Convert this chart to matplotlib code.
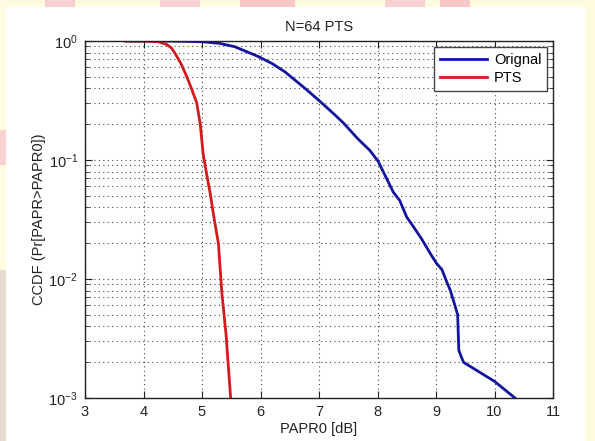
import numpy as np
import matplotlib
matplotlib.use("Agg")
import matplotlib.pyplot as plt
from matplotlib.patches import Rectangle

plt.rcParams['font.family'] = ['Liberation Sans', 'DejaVu Sans']

# ---- data ----
orig_x = [3.70, 4.50, 5.00, 5.30, 5.56, 5.96, 6.20, 6.42, 6.79, 7.00, 7.27, 7.42,
          7.66, 7.87, 8.01, 8.15, 8.27, 8.38, 8.50, 8.60, 8.75, 8.92, 9.01, 9.10,
          9.18, 9.24, 9.31, 9.37, 9.39, 9.47, 10.00, 10.35]
orig_log = [0.0, -0.001, -0.006, -0.02, -0.048, -0.13, -0.19, -0.26, -0.41, -0.50,
            -0.62, -0.69, -0.82, -0.92, -1.01, -1.15, -1.27, -1.34, -1.48, -1.55,
            -1.66, -1.80, -1.87, -1.92, -2.02, -2.09, -2.20, -2.30, -2.60, -2.70,
            -2.86, -3.0]

pts_x = [3.68, 4.00, 4.25, 4.40, 4.48, 4.56, 4.65, 4.74, 4.82, 4.91, 4.97, 5.02,
         5.08, 5.14, 5.21, 5.28, 5.34, 5.41, 5.49]
pts_log = [0.0, -0.001, -0.006, -0.03, -0.06, -0.12, -0.20, -0.30, -0.40, -0.52,
           -0.70, -0.95, -1.12, -1.28, -1.50, -1.70, -2.12, -2.46, -3.0]

orig_ccdf = [10 ** v for v in orig_log]
pts_ccdf = [10 ** v for v in pts_log]

series_labels = ["Orignal", "PTS"]
title = "N=64 PTS"
xlabel = "PAPR0 [dB]"
ylabel = "CCDF (Pr[PAPR>PAPR0])"

# ---- figure ----
fig = plt.figure(figsize=(5.95, 4.41), dpi=100, facecolor='#fffbe0')
W, H = 595, 441
# decorative background (watermark-ish)
for (x0, y0, w, h, c) in [(45, 0, 30, 7, '#f8d0d0'), (160, 0, 40, 7, '#f8d0d0'),
                          (240, 0, 55, 7, '#f8c8c8'), (385, 0, 40, 7, '#f8d0d0'),
                          (440, 0, 30, 7, '#f8c8c8'), (0, 130, 6, 35, '#f8d0d0'),
                          (0, 270, 6, 171, '#e6ddd0')]:
    fig.patches.append(Rectangle((x0 / W, 1 - (y0 + h) / H), w / W, h / H,
                                 transform=fig.transFigure, facecolor=c,
                                 edgecolor='none', zorder=-2))
fig.patches.append(Rectangle((6 / W, 0), (585 - 6) / W, (H - 7) / H,
                             transform=fig.transFigure, facecolor='white',
                             edgecolor='none', zorder=-1))

ax = fig.add_axes([85 / W, 1 - 398 / H, (553 - 85) / W, (398 - 41) / H])
ax.set_zorder(1)
ax.semilogy(orig_x, orig_ccdf, color='#1414a0', lw=2.0, label=series_labels[0])
ax.semilogy(pts_x, pts_ccdf, color='#d01c1c', lw=2.0, label=series_labels[1])

ax.set_xlim(3, 11)
ax.set_ylim(1e-3, 1)
ax.set_xticks(range(3, 12))
ax.grid(True, which='major', axis='both', linestyle=(0, (1, 3)), color='#444444', lw=0.8)
ax.grid(True, which='minor', axis='y', linestyle=(0, (1, 3)), color='#444444', lw=0.8)
ax.tick_params(which='both', direction='in', top=True, right=True, labelsize=10.5,
               colors='#222222')
ax.tick_params(which='major', length=5, pad=5)
ax.tick_params(which='minor', length=3)
for s in ax.spines.values():
    s.set_color('#222222')
    s.set_linewidth(1.0)

ax.set_title(title, fontsize=10.5, pad=7, color='#222222')
ax.set_xlabel(xlabel, fontsize=10.5, labelpad=2, color='#222222')
ax.set_ylabel(ylabel, fontsize=10.5, labelpad=2, color='#222222')

leg = ax.legend(loc='upper right', fontsize=10.5, fancybox=False, framealpha=1,
                edgecolor='#444444', handlelength=3.2, borderaxespad=0.4,
                labelspacing=0.3, handletextpad=0.5)
leg.get_frame().set_linewidth(1.0)

fig.savefig("out.png", dpi=100, facecolor=fig.get_facecolor())
